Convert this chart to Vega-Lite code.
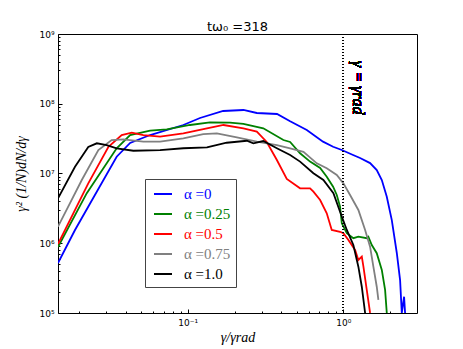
{
  "$schema": "https://vega.github.io/schema/vega-lite/v6.json",
  "width": 359,
  "height": 279,
  "autosize": {"type": "none"},
  "padding": {"left": 58, "top": 34, "right": 46, "bottom": 36},
  "background": "white",
  "config": {
    "view": {"stroke": "black", "strokeWidth": 1},
    "axis": {"grid": false, "domain": false, "labelFont": "DejaVu Sans", "labelFontSize": 9, "labelColor": "black", "tickColor": "black", "titleFont": "Liberation Serif", "titleFontStyle": "italic", "titleFontWeight": "normal", "titleFontSize": 14, "titleColor": "black"}
  },
  "title": {"text": "tω₀ =318", "font": "DejaVu Sans", "fontSize": 13, "fontWeight": "normal", "color": "black", "offset": -4},
  "data": {"values": [
    {"x": 0.0147, "y": 5.21e5, "s": "α =0"},
    {"x": 0.0189, "y": 1.55e6, "s": "α =0"},
    {"x": 0.0350, "y": 1.74e7, "s": "α =0"},
    {"x": 0.0427, "y": 2.74e7, "s": "α =0"},
    {"x": 0.0574, "y": 3.56e7, "s": "α =0"},
    {"x": 0.0938, "y": 4.96e7, "s": "α =0"},
    {"x": 0.120, "y": 6.25e7, "s": "α =0"},
    {"x": 0.169, "y": 7.87e7, "s": "α =0"},
    {"x": 0.228, "y": 8.14e7, "s": "α =0"},
    {"x": 0.278, "y": 7.37e7, "s": "α =0"},
    {"x": 0.375, "y": 7.13e7, "s": "α =0"},
    {"x": 0.455, "y": 5.6e7, "s": "α =0"},
    {"x": 0.582, "y": 4.20e7, "s": "α =0"},
    {"x": 0.740, "y": 2.86e7, "s": "α =0"},
    {"x": 0.859, "y": 2.42e7, "s": "α =0"},
    {"x": 0.977, "y": 2.17e7, "s": "α =0"},
    {"x": 1.154, "y": 1.84e7, "s": "α =0"},
    {"x": 1.280, "y": 1.67e7, "s": "α =0"},
    {"x": 1.484, "y": 1.41e7, "s": "α =0"},
    {"x": 1.638, "y": 1.12e7, "s": "α =0"},
    {"x": 1.765, "y": 8.07e6, "s": "α =0"},
    {"x": 1.900, "y": 4.65e6, "s": "α =0"},
    {"x": 2.046, "y": 2.15e6, "s": "α =0"},
    {"x": 2.203, "y": 7.25e5, "s": "α =0"},
    {"x": 2.313, "y": 2.97e5, "s": "α =0"},
    {"x": 2.372, "y": 1.0e5, "s": "α =0"},
    {"x": 2.454, "y": 1.71e5, "s": "α =0"},
    {"x": 2.490, "y": 1.0e5, "s": "α =0"},

    {"x": 0.0147, "y": 8.84e5, "s": "α =0.25"},
    {"x": 0.0225, "y": 5.22e6, "s": "α =0.25"},
    {"x": 0.0350, "y": 2.30e7, "s": "α =0.25"},
    {"x": 0.0427, "y": 3.56e7, "s": "α =0.25"},
    {"x": 0.0574, "y": 4.11e7, "s": "α =0.25"},
    {"x": 0.0734, "y": 4.30e7, "s": "α =0.25"},
    {"x": 0.1036, "y": 4.96e7, "s": "α =0.25"},
    {"x": 0.139, "y": 5.42e7, "s": "α =0.25"},
    {"x": 0.187, "y": 5.35e7, "s": "α =0.25"},
    {"x": 0.228, "y": 5.13e7, "s": "α =0.25"},
    {"x": 0.306, "y": 4.45e7, "s": "α =0.25"},
    {"x": 0.412, "y": 3.02e7, "s": "α =0.25"},
    {"x": 0.455, "y": 2.83e7, "s": "α =0.25"},
    {"x": 0.527, "y": 1.95e7, "s": "α =0.25"},
    {"x": 0.611, "y": 1.48e7, "s": "α =0.25"},
    {"x": 0.709, "y": 1.20e7, "s": "α =0.25"},
    {"x": 0.782, "y": 9.00e6, "s": "α =0.25"},
    {"x": 0.859, "y": 6.47e6, "s": "α =0.25"},
    {"x": 0.907, "y": 4.92e6, "s": "α =0.25"},
    {"x": 0.952, "y": 3.34e6, "s": "α =0.25"},
    {"x": 0.977, "y": 1.93e6, "s": "α =0.25"},
    {"x": 1.052, "y": 1.39e6, "s": "α =0.25"},
    {"x": 1.159, "y": 1.18e6, "s": "α =0.25"},
    {"x": 1.248, "y": 1.24e6, "s": "α =0.25"},
    {"x": 1.413, "y": 1.18e6, "s": "α =0.25"},
    {"x": 1.447, "y": 1.24e6, "s": "α =0.25"},
    {"x": 1.522, "y": 9.44e5, "s": "α =0.25"},
    {"x": 1.638, "y": 7.2e5, "s": "α =0.25"},
    {"x": 1.765, "y": 4.14e5, "s": "α =0.25"},
    {"x": 1.853, "y": 2.14e5, "s": "α =0.25"},
    {"x": 1.900, "y": 1.0e5, "s": "α =0.25"},

    {"x": 0.0147, "y": 9.75e5, "s": "α =0.5"},
    {"x": 0.0230, "y": 7.23e6, "s": "α =0.5"},
    {"x": 0.0310, "y": 2.42e7, "s": "α =0.5"},
    {"x": 0.0377, "y": 3.56e7, "s": "α =0.5"},
    {"x": 0.0438, "y": 3.85e7, "s": "α =0.5"},
    {"x": 0.0519, "y": 3.56e7, "s": "α =0.5"},
    {"x": 0.0665, "y": 3.37e7, "s": "α =0.5"},
    {"x": 0.0938, "y": 3.77e7, "s": "α =0.5"},
    {"x": 0.133, "y": 4.45e7, "s": "α =0.5"},
    {"x": 0.170, "y": 4.96e7, "s": "α =0.5"},
    {"x": 0.228, "y": 4.45e7, "s": "α =0.5"},
    {"x": 0.278, "y": 3.98e7, "s": "α =0.5"},
    {"x": 0.322, "y": 2.83e7, "s": "α =0.5"},
    {"x": 0.374, "y": 1.56e7, "s": "α =0.5"},
    {"x": 0.433, "y": 8.34e6, "s": "α =0.5"},
    {"x": 0.527, "y": 6.13e6, "s": "α =0.5"},
    {"x": 0.611, "y": 6.13e6, "s": "α =0.5"},
    {"x": 0.642, "y": 5.48e6, "s": "α =0.5"},
    {"x": 0.709, "y": 4.17e6, "s": "α =0.5"},
    {"x": 0.782, "y": 2.69e6, "s": "α =0.5"},
    {"x": 0.842, "y": 1.55e6, "s": "α =0.5"},
    {"x": 0.952, "y": 1.46e6, "s": "α =0.5"},
    {"x": 1.0, "y": 1.39e6, "s": "α =0.5"},
    {"x": 1.077, "y": 1.11e6, "s": "α =0.5"},
    {"x": 1.189, "y": 8.00e5, "s": "α =0.5"},
    {"x": 1.248, "y": 5.75e5, "s": "α =0.5"},
    {"x": 1.313, "y": 6.42e5, "s": "α =0.5"},
    {"x": 1.345, "y": 4.61e5, "s": "α =0.5"},
    {"x": 1.413, "y": 2.14e5, "s": "α =0.5"},
    {"x": 1.484, "y": 1.0e5, "s": "α =0.5"},

    {"x": 0.0147, "y": 1.73e6, "s": "α =0.75"},
    {"x": 0.0209, "y": 8.07e6, "s": "α =0.75"},
    {"x": 0.0267, "y": 2.17e7, "s": "α =0.75"},
    {"x": 0.0325, "y": 3.02e7, "s": "α =0.75"},
    {"x": 0.0386, "y": 3.09e7, "s": "α =0.75"},
    {"x": 0.0519, "y": 2.86e7, "s": "α =0.75"},
    {"x": 0.0665, "y": 2.86e7, "s": "α =0.75"},
    {"x": 0.0938, "y": 3.20e7, "s": "α =0.75"},
    {"x": 0.126, "y": 3.68e7, "s": "α =0.75"},
    {"x": 0.154, "y": 3.77e7, "s": "α =0.75"},
    {"x": 0.207, "y": 3.30e7, "s": "α =0.75"},
    {"x": 0.278, "y": 2.86e7, "s": "α =0.75"},
    {"x": 0.374, "y": 2.56e7, "s": "α =0.75"},
    {"x": 0.455, "y": 2.30e7, "s": "α =0.75"},
    {"x": 0.554, "y": 2.05e7, "s": "α =0.75"},
    {"x": 0.675, "y": 1.40e7, "s": "α =0.75"},
    {"x": 0.782, "y": 1.19e7, "s": "α =0.75"},
    {"x": 0.907, "y": 9.52e6, "s": "α =0.75"},
    {"x": 1.0, "y": 7.23e6, "s": "α =0.75"},
    {"x": 1.104, "y": 4.92e6, "s": "α =0.75"},
    {"x": 1.248, "y": 3.00e6, "s": "α =0.75"},
    {"x": 1.379, "y": 1.55e6, "s": "α =0.75"},
    {"x": 1.484, "y": 8.92e5, "s": "α =0.75"},
    {"x": 1.558, "y": 4.61e5, "s": "α =0.75"},
    {"x": 1.638, "y": 2.38e5, "s": "α =0.75"},
    {"x": 1.678, "y": 1.54e5, "s": "α =0.75"},

    {"x": 0.0147, "y": 4.41e6, "s": "α =1.0"},
    {"x": 0.0189, "y": 1.25e7, "s": "α =1.0"},
    {"x": 0.0230, "y": 2.40e7, "s": "α =1.0"},
    {"x": 0.0261, "y": 2.71e7, "s": "α =1.0"},
    {"x": 0.0302, "y": 2.56e7, "s": "α =1.0"},
    {"x": 0.0350, "y": 2.30e7, "s": "α =1.0"},
    {"x": 0.0448, "y": 2.12e7, "s": "α =1.0"},
    {"x": 0.0665, "y": 2.17e7, "s": "α =1.0"},
    {"x": 0.0938, "y": 2.30e7, "s": "α =1.0"},
    {"x": 0.133, "y": 2.37e7, "s": "α =1.0"},
    {"x": 0.178, "y": 2.76e7, "s": "α =1.0"},
    {"x": 0.240, "y": 2.95e7, "s": "α =1.0"},
    {"x": 0.264, "y": 2.71e7, "s": "α =1.0"},
    {"x": 0.306, "y": 2.92e7, "s": "α =1.0"},
    {"x": 0.374, "y": 2.30e7, "s": "α =1.0"},
    {"x": 0.455, "y": 1.84e7, "s": "α =1.0"},
    {"x": 0.527, "y": 1.48e7, "s": "α =1.0"},
    {"x": 0.642, "y": 1.01e7, "s": "α =1.0"},
    {"x": 0.744, "y": 8.07e6, "s": "α =1.0"},
    {"x": 0.863, "y": 5.22e6, "s": "α =1.0"},
    {"x": 0.952, "y": 2.83e6, "s": "α =1.0"},
    {"x": 1.052, "y": 1.55e6, "s": "α =1.0"},
    {"x": 1.159, "y": 9.44e5, "s": "α =1.0"},
    {"x": 1.248, "y": 4.61e5, "s": "α =1.0"},
    {"x": 1.313, "y": 2.38e5, "s": "α =1.0"},
    {"x": 1.379, "y": 1.0e5, "s": "α =1.0"}
  ]},
  "layer": [
    {
      "mark": {"type": "line", "strokeWidth": 1.8, "clip": true},
      "encoding": {
        "x": {"field": "x", "type": "quantitative",
          "scale": {"type": "log", "domain": [0.0147, 2.97], "nice": false},
          "axis": {"orient": "bottom", "title": "γ/γrad",
            "values": [0.02, 0.03, 0.04, 0.05, 0.06, 0.07, 0.08, 0.09, 0.1, 0.2, 0.3, 0.4, 0.5, 0.6, 0.7, 0.8, 0.9, 1, 2],
            "labelExpr": "datum.value == 0.1 ? '10⁻¹' : datum.value == 1 ? '10⁰' : ''",
            "tickSize": {"condition": {"test": "datum.value == 0.1 || datum.value == 1", "value": -4}, "value": -2},
            "labelPadding": 9, "titlePadding": 3}},
        "y": {"field": "y", "type": "quantitative",
          "scale": {"type": "log", "domain": [1e5, 1e9], "nice": false},
          "axis": {"orient": "left", "title": "γ² (1/N)dN/dγ",
            "values": [1e5, 2e5, 3e5, 4e5, 5e5, 6e5, 7e5, 8e5, 9e5, 1e6, 2e6, 3e6, 4e6, 5e6, 6e6, 7e6, 8e6, 9e6, 1e7, 2e7, 3e7, 4e7, 5e7, 6e7, 7e7, 8e7, 9e7, 1e8, 2e8, 3e8, 4e8, 5e8, 6e8, 7e8, 8e8, 9e8, 1e9],
            "labelExpr": "datum.value == 1e5 ? '10⁵' : datum.value == 1e6 ? '10⁶' : datum.value == 1e7 ? '10⁷' : datum.value == 1e8 ? '10⁸' : datum.value == 1e9 ? '10⁹' : ''",
            "tickSize": {"condition": {"test": "datum.value == 1e5 || datum.value == 1e6 || datum.value == 1e7 || datum.value == 1e8 || datum.value == 1e9", "value": -4}, "value": -2},
            "labelPadding": 8, "titlePadding": 10}},
        "color": {"field": "s", "type": "nominal",
          "scale": {"domain": ["α =0", "α =0.25", "α =0.5", "α =0.75", "α =1.0"], "range": ["#0000ff", "#008000", "#ff0000", "#808080", "#000000"]},
          "legend": {"orient": "none", "legendX": 87, "legendY": 145, "title": null,
            "symbolType": "stroke", "symbolSize": 324, "symbolStrokeWidth": 2, "symbolOffset": 3,
            "labelFont": "Liberation Serif", "labelFontSize": 15, "labelOffset": 11, "labelLimit": 200,
            "rowPadding": 2, "padding": 5, "fillColor": "white", "strokeColor": "#444444", "cornerRadius": 0,
            "encode": {"labels": {"update": {"fill": {"scale": "color", "field": "value"}}}}}}
      }
    },
    {
      "mark": {"type": "rule", "strokeDash": [1, 2], "color": "black", "strokeWidth": 1},
      "encoding": {"x": {"datum": 1}}
    },
    {
      "mark": {"type": "text", "angle": 90, "font": "Liberation Serif", "fontStyle": "italic", "fontSize": 16, "align": "center", "baseline": "middle", "color": "black"},
      "encoding": {"x": {"datum": 1.25}, "y": {"datum": 1.7e8}, "text": {"value": "γ = γrad"}}
    }
  ]
}
